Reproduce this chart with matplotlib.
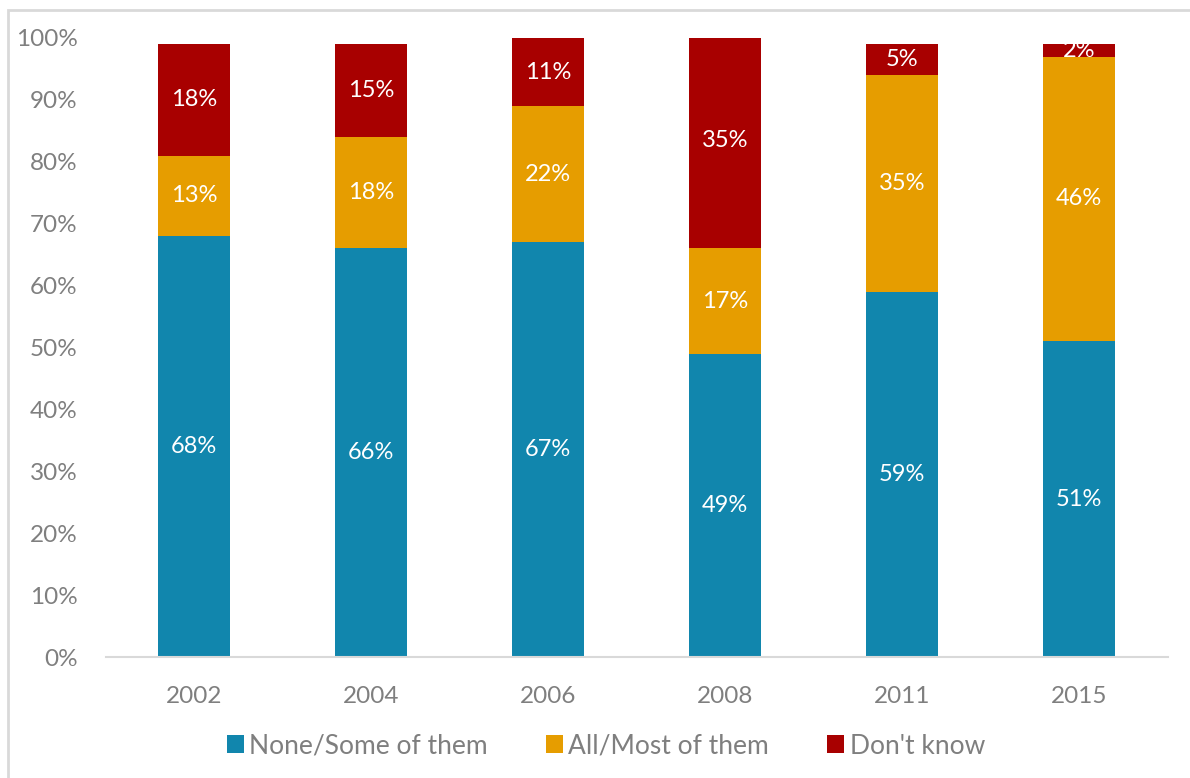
import matplotlib.pyplot as plt
import numpy as np
from matplotlib.patches import Rectangle

years = ['2002', '2004', '2006', '2008', '2011', '2015']
none_some = [68, 66, 67, 49, 59, 51]
all_most = [13, 18, 22, 17, 35, 46]
dont_know = [18, 15, 11, 35, 5, 2]

series = [
    ('None/Some of them', none_some, '#1186ad'),
    ('All/Most of them', all_most, '#e69d00'),
    ("Don't know", dont_know, '#a80000'),
]

plt.rcParams['font.family'] = ['Lato', 'DejaVu Sans']
grey = '#7f7f7f'

fig = plt.figure(figsize=(11.9, 7.78), dpi=100)
ax = fig.add_axes([105.5 / 1190, 1 - 657 / 778, 1062 / 1190, 619 / 778])

# outer frame of the chart
fig.patches.append(Rectangle((8 / 1190, -0.01), 1.0, (778 - 10) / 778 + 0.01,
                             transform=fig.transFigure, fill=False,
                             edgecolor='#d9d9d9', linewidth=2))

x = np.arange(len(years))
bottom = np.zeros(len(years))
for name, vals, col in series:
    vals = np.array(vals, dtype=float)
    ax.bar(x, vals, 0.41, bottom=bottom, color=col, label=name, zorder=2)
    for xi, b, v in zip(x, bottom, vals):
        ax.text(xi, b + v / 2, f'{int(v)}%', ha='center', va='center',
                color='white', fontsize=17, zorder=3)
    bottom += vals

ax.set_xlim(-0.5, len(years) - 0.5)
ax.set_ylim(0, 100)
ax.set_yticks(np.arange(0, 101, 10))
ax.set_yticklabels([f'{v}%' for v in range(0, 101, 10)])
ax.set_xticks(x)
ax.set_xticklabels(years)
ax.tick_params(axis='both', length=0, labelsize=17.5, labelcolor=grey)
ax.tick_params(axis='y', pad=20)
ax.tick_params(axis='x', pad=21)
for s in ['top', 'right', 'left']:
    ax.spines[s].set_visible(False)
ax.spines['bottom'].set_color('#d9d9d9')
ax.spines['bottom'].set_linewidth(1.5)

leg = fig.legend(loc='center', bbox_to_anchor=(606 / 1190, 1 - 746 / 778), ncol=3,
                 frameon=False, fontsize=19, handlelength=0.65, handleheight=0.65,
                 handletextpad=0.2, columnspacing=2.2)
for t in leg.get_texts():
    t.set_color(grey)

fig.savefig('out.png', dpi=100)
